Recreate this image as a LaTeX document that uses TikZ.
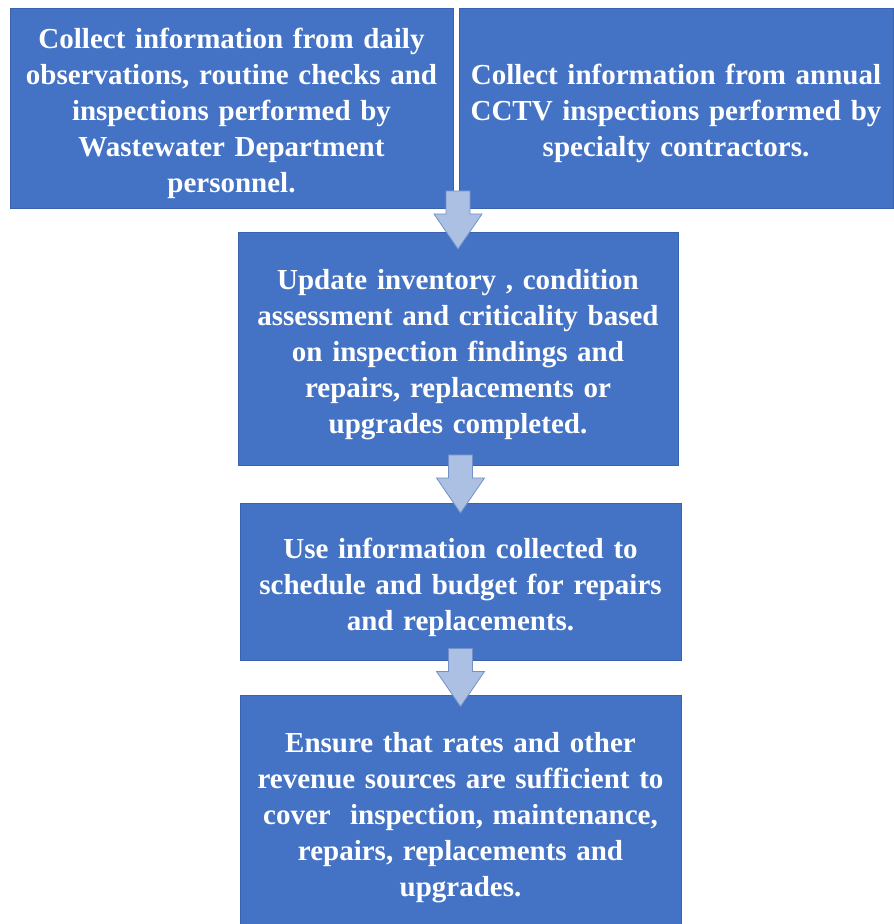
\documentclass[tikz,border=0pt]{standalone}
\usepackage{fontspec}
\setmainfont{Liberation Serif}
\usepackage{tikz}
\usetikzlibrary{calc}

\definecolor{boxblue}{HTML}{4472C4}
\definecolor{boxedge}{HTML}{3A62AE}
\definecolor{arrowfill}{HTML}{ACC0E3}
\definecolor{arrowedge}{HTML}{7391C8}

% block arrow centred in the gap between two boxes
\newcommand{\flowarrow}[2]{%
  \path ($(#2.north |- #1.south)!0.5!(#2.north)$) coordinate (mid);
  \draw[blockarrow] ($(mid)+(-12,29)$) -- ($(mid)+(-12,6)$)
    -- ($(mid)+(-24,6)$) -- ($(mid)+(0,-29)$) -- ($(mid)+(24,6)$)
    -- ($(mid)+(12,6)$) -- ($(mid)+(12,29)$) -- cycle;}

\begin{document}
\begin{tikzpicture}[x=1pt,y=1pt,
	box/.style={draw=boxedge,fill=boxblue,line width=0.8pt,text=white,
		inner sep=0pt,align=center,
		font=\fontsize{29}{36}\selectfont\bfseries,
		execute at begin node={\rule{0pt}{32pt}}},
	blockarrow/.style={draw=arrowedge,fill=arrowfill,line width=0.8pt,line join=miter}]
		\clip (0,0) rectangle (894,924);
		\fill[white] (0,0) rectangle (894,924);
		\node[box,minimum width=443pt,minimum height=200pt,text width=439pt] (daily) at (231.5,816)
		{Collect information from daily\\observations, routine checks and\\inspections performed by\\Wastewater Department\\personnel.};
		\node[box,minimum width=434pt,minimum height=200pt,text width=430pt] (cctv) at (676,816)
		{Collect information from annual\\CCTV inspections performed by\\specialty contractors.};
		\node[box,minimum width=440pt,minimum height=233pt,text width=436pt] (update) at (458,575.5)
		{Update inventory , condition\\assessment and criticality based\\on inspection findings and\\repairs, replacements or\\upgrades completed.};
		\node[box,minimum width=441pt,minimum height=157pt,text width=437pt] (budget) at (460.5,342.5)
		{Use information collected to\\schedule and budget for repairs\\and replacements.};
		\node[box,minimum width=441pt,minimum height=234pt,text width=437pt] (rates) at (460.5,112)
		{Ensure that rates and other\\revenue sources are sufficient to\\cover\ \ inspection, maintenance,\\repairs, replacements and\\upgrades.};
		\flowarrow{daily}{update}
		\flowarrow{update}{budget}
		\flowarrow{budget}{rates}
\end{tikzpicture}
\end{document}
